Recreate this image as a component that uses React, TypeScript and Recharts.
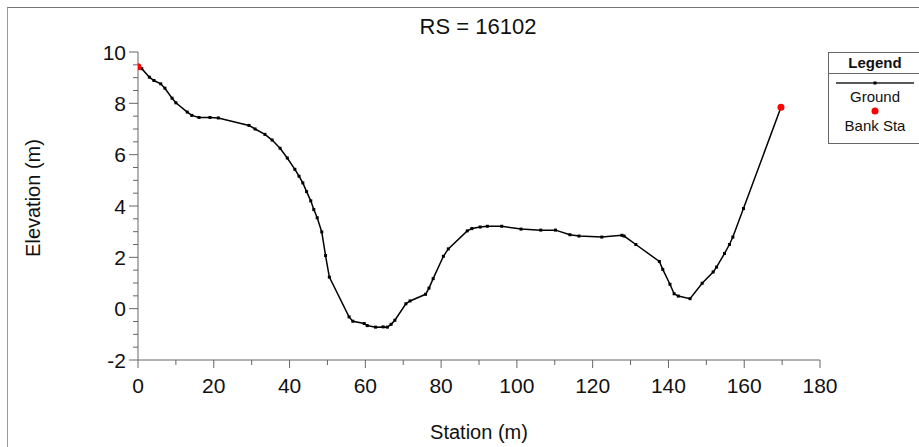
import React from 'react';
import { ComposedChart, Line, Scatter, XAxis, YAxis, Label } from 'recharts';

// ground profile
const stations = [
  0, 1.0, 3.0, 4.2, 6.0, 7.1, 9.0, 10.0, 13.0, 14.2, 16.1, 19.0, 21.2, 29.3, 30.9, 33.5,
  35.4, 37.5, 39.4, 41.4, 42.5, 43.5, 44.5, 45.6, 46.4, 47.3, 48.5, 49.5, 50.5, 55.7, 56.7,
  59.7, 60.5, 62.7, 64.7, 65.8, 66.8, 67.8, 70.7, 71.8, 75.9, 76.8, 77.9, 80.6, 81.9, 86.9,
  88.1, 90.3, 92.2, 96.0, 101.1, 106.3, 110.2, 114.0, 116.4, 122.4, 127.7, 128.3, 131.4,
  137.6, 138.5, 140.4, 141.5, 142.6, 145.7, 148.9, 151.8, 152.7, 154.8, 156.1, 157.0, 159.8,
  169.7,
];
const elevations = [
  9.43, 9.35, 9.02, 8.89, 8.76, 8.59, 8.2, 8.02, 7.66, 7.53, 7.45, 7.45, 7.43, 7.14, 7.0, 6.79,
  6.57, 6.25, 5.87, 5.43, 5.16, 4.9, 4.56, 4.2, 3.86, 3.54, 2.99, 2.07, 1.23, -0.32, -0.49,
  -0.58, -0.66, -0.72, -0.71, -0.72, -0.61, -0.45, 0.19, 0.3, 0.56, 0.8, 1.17, 2.04, 2.33, 3.03,
  3.12, 3.18, 3.21, 3.21, 3.1, 3.06, 3.06, 2.88, 2.83, 2.79, 2.86, 2.83, 2.5,
  1.84, 1.53, 0.95, 0.58, 0.49, 0.39, 0.99, 1.43, 1.62, 2.15, 2.5, 2.79, 3.9,
  7.85,
];

const bankStations = [0, 169.7];
const bankElevations = [9.43, 7.85];

const xTicks = [0, 10, 20, 30, 40, 50, 60, 70, 80, 90, 100, 110, 120, 130, 140, 150, 160, 170, 180];
const yTicks = [-2, -1.5, -1, -0.5, 0, 0.5, 1, 1.5, 2, 2.5, 3, 3.5, 4, 4.5, 5, 5.5, 6, 6.5, 7, 7.5, 8, 8.5, 9, 9.5, 10];

const ground = stations.map((s, i) => ({ station: s, elev: elevations[i] }));
const bank = bankStations.map((s, i) => ({ station: s, elev: bankElevations[i] }));

const FONT = "'Liberation Sans', Arial, sans-serif";
const AXIS = '#666';

const XTick = (props: any) => {
  const { x, y, payload } = props;
  const major = payload.value % 20 === 0;
  return (
    <g>
      <line x1={x} y1={y} x2={x} y2={y + (major ? 8 : 5)} stroke={AXIS} />
      {major && (
        <text x={x} y={y + 25} textAnchor="middle" dominantBaseline="central" fontSize={21} fontFamily={FONT} fill="#111">
          {payload.value}
        </text>
      )}
    </g>
  );
};

const YTick = (props: any) => {
  const { x, y, payload } = props;
  const major = payload.value % 2 === 0;
  return (
    <g>
      <line x1={x} y1={y} x2={x - (major ? 9 : 5)} y2={y} stroke={AXIS} />
      {major && (
        <text x={x - 12} y={y} textAnchor="end" dominantBaseline="central" fontSize={21} fontFamily={FONT} fill="#111">
          {payload.value}
        </text>
      )}
    </g>
  );
};

const GroundDot = (props: any) => {
  const { cx, cy } = props;
  if (cx == null || cy == null) return null;
  return <rect x={cx - 1.5} y={cy - 1.5} width={3} height={3} fill="#000" />;
};

export default function App() {
  return (
    <div style={{ position: 'absolute', left: 0, top: 0, width: 919, height: 447, background: '#fff', overflow: 'hidden' }}>
      <div
        style={{
          position: 'absolute', left: 7, top: 7, width: 930, height: 460,
          borderLeft: '1px solid #999', borderTop: '1px solid #777',
        }}
      />
      <div
        style={{
          position: 'absolute', left: 0, top: 14, width: 956, textAlign: 'center',
          fontFamily: FONT, fontSize: 22, lineHeight: '26px', color: '#111',
        }}
      >
        RS = 16102
      </div>
      <div style={{ position: 'absolute', left: 0, top: 0 }}>
        <ComposedChart width={919} height={447} margin={{ top: 52, right: 99, left: 78, bottom: 27 }}>
          <XAxis
            type="number"
            dataKey="station"
            domain={[0, 180]}
            ticks={xTicks}
            interval={0}
            tickSize={0}
            tickMargin={0}
            tick={<XTick />}
            axisLine={{ stroke: AXIS }}
            height={60}
            allowDataOverflow
          >
            <Label
              content={() => (
                <text x={479} y={432} textAnchor="middle" dominantBaseline="central" fontSize={20} fontFamily={FONT} fill="#111">
                  Station (m)
                </text>
              )}
            />
          </XAxis>
          <YAxis
            type="number"
            dataKey="elev"
            domain={[-2, 10]}
            ticks={yTicks}
            interval={0}
            tickSize={0}
            tickMargin={0}
            tick={<YTick />}
            axisLine={{ stroke: AXIS }}
            width={60}
            allowDataOverflow
          >
            <Label
              content={() => (
                <text
                  x={33}
                  y={198}
                  textAnchor="middle"
                  dominantBaseline="central"
                  fontSize={20}
                  fontFamily={FONT}
                  fill="#111"
                  transform="rotate(-90 33 198)"
                >
                  Elevation (m)
                </text>
              )}
            />
          </YAxis>
          <Line
            data={ground}
            dataKey="elev"
            type="linear"
            stroke="#000"
            strokeWidth={1.5}
            dot={<GroundDot />}
            activeDot={false}
            isAnimationActive={false}
          />
          <Scatter
            data={bank}
            dataKey="elev"
            fill="#ff0000"
            shape={(p: any) => <circle cx={p.cx} cy={p.cy} r={3.5} fill="#ff0000" />}
            isAnimationActive={false}
          />
        </ComposedChart>
      </div>
      <div
        style={{
          position: 'absolute', left: 828, top: 52, width: 94, height: 92,
          border: '1px solid #666', boxSizing: 'border-box', fontFamily: FONT, fontSize: 15, color: '#111',
        }}
      >
        <div style={{ height: 20, lineHeight: '20px', textAlign: 'center', fontWeight: 'bold', borderBottom: '1px solid #666' }}>
          Legend
        </div>
        <svg width={94} height={14} style={{ display: 'block', marginLeft: -1 }}>
          <line x1={8} y1={9} x2={86} y2={9} stroke="#222" strokeWidth={1.5} />
          <rect x={45.5} y={7.5} width={3} height={3} fill="#000" />
        </svg>
        <div style={{ textAlign: 'center', lineHeight: '17px', height: 17 }}>Ground</div>
        <svg width={94} height={12} style={{ display: 'block', marginLeft: -1 }}>
          <circle cx={47} cy={6} r={3.5} fill="#ff0000" />
        </svg>
        <div style={{ textAlign: 'center', lineHeight: '17px', height: 17 }}>Bank Sta</div>
      </div>
    </div>
  );
}
